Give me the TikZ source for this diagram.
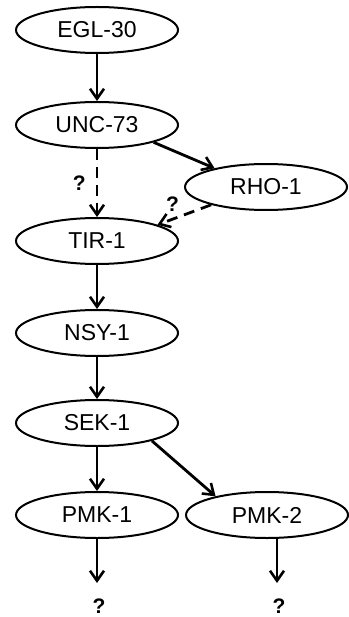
\documentclass[tikz,border=0pt]{standalone}
\usepackage{fontspec}
\setmainfont{Liberation Sans}
\usetikzlibrary{arrows.meta,shapes.geometric,positioning}
\tikzset{
  gene/.style = {ellipse, draw=black, line width=2pt, inner sep=0pt,
    minimum width=162pt, minimum height=46pt, font=\fontsize{23}{26}\selectfont},% one protein
  act/.style = {-{Straight Barb[length=10pt,width=14pt,line width=2.6pt]},
    line width=2.8pt},% activation
  maybe/.style = {act, dash pattern=on 11pt off 7pt},% not known
  qmark/.style = {font=\fontsize{21}{24}\selectfont\bfseries, inner sep=2pt}
}
\begin{document}
\begin{tikzpicture}[x=1pt, y=-1pt]
  \useasboundingbox (0,0) rectangle (348,617);
  % the pathway
  \node [gene] (egl)  at (97,30)  {EGL-30};
  \node [gene] (unc)  at (97,125) {UNC-73};
  \node [gene] (rho)  at (266,187) {RHO-1};
  \node [gene] (tir)  at (97,241) {TIR-1};
  \node [gene] (nsy)  at (97,333) {NSY-1};
  \node [gene] (sek)  at (97,423) {SEK-1};
  \node [gene] (pmk1) at (97,515) {PMK-1};
  \node [gene] (pmk2) at (267,515) {PMK-2};
  \node [qmark] (q1) at (99,606) {?};
  \node [qmark] (q2) at (279,606) {?};
  \coordinate (e1) at (97,583);
  \coordinate (e2) at (277,583);

  \draw [act] (egl) -- (unc);
  \draw [act] (unc.-17) -- (rho.160);
  \draw [maybe] (unc) -- node [qmark, left=8pt] {?} (tir);
  \draw [maybe] (rho.-162) -- node [qmark, above left=0pt and 2pt] {?} (tir.15);
  \draw [act] (tir) -- (nsy);
  \draw [act] (nsy) -- (sek);
  \draw [act] (sek) -- (pmk1);
  \draw [act] (sek.-18) -- (pmk2.160);
  \draw [act] (pmk1) -- (e1);
  \draw [act] (e2 |- pmk2.south) -- (e2);
\end{tikzpicture}
\end{document}
